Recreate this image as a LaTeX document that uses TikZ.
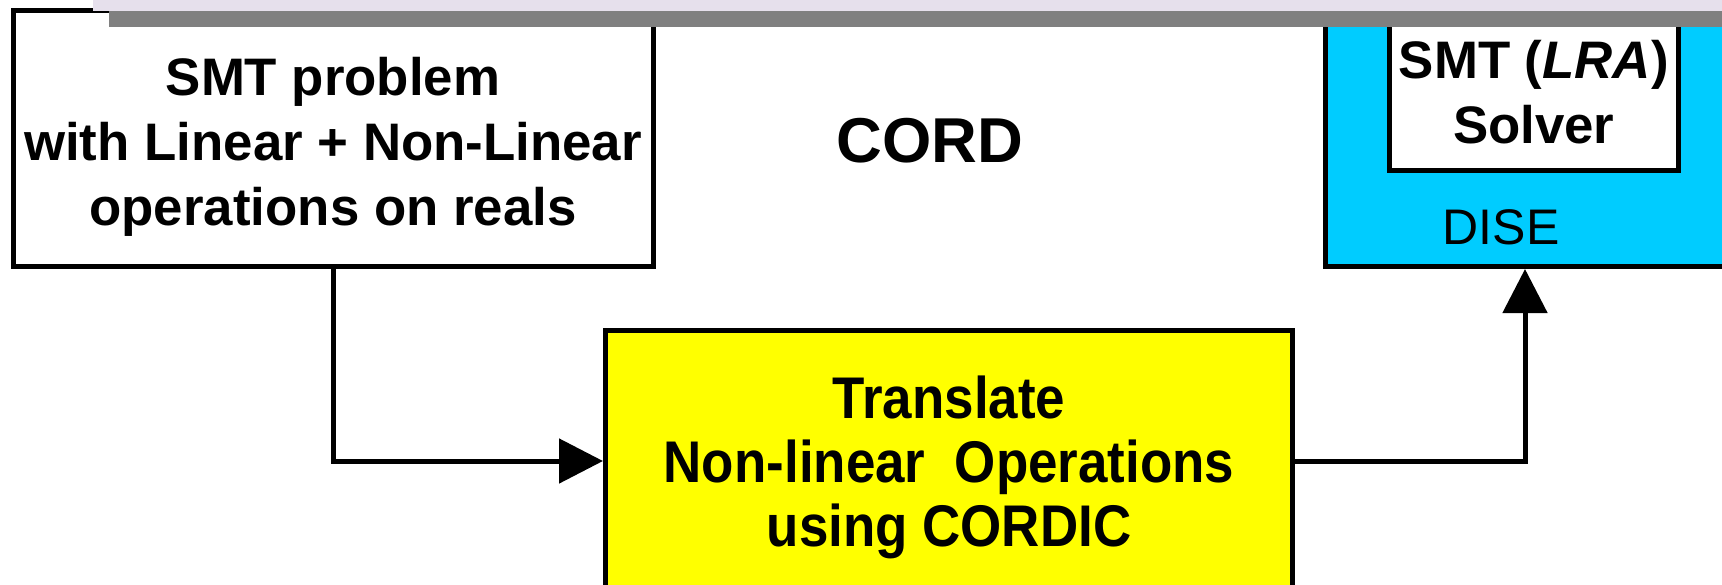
\documentclass[tikz,border=0pt]{standalone}
\usepackage{fontspec}
\setmainfont{Liberation Sans}
\newfontfamily\tallfont{Liberation Sans}[FakeStretch=0.9]
\usetikzlibrary{arrows.meta,positioning}
\definecolor{diseBlue}{HTML}{00CCFF}
\definecolor{trYellow}{HTML}{FFFF00}
\definecolor{barLilac}{HTML}{E6E0EC}
\definecolor{barGray}{HTML}{808080}

\begin{document}
\begin{tikzpicture}[
  x=0.5pt, y=-0.5pt,
  box/.style={draw, line width=2.5pt, align=center, inner sep=0pt, fill=#1},
  big/.style={font=\fontsize{26.4}{32.5}\selectfont\bfseries},
  flow/.style={line width=2.5pt, -{Triangle[length=22pt, width=22pt]}}
]
\clip (0,0) rectangle (1722,584);
% input problem
\node[box=white, minimum width=320pt, minimum height=127.75pt] (prob) at (333,138.25) {};
\node[big, align=center] (probtxt) at (333,146.5)
  {SMT problem\\with Linear + Non-Linear\\operations on reals};
\node[font=\fontsize{31.7}{38}\selectfont\bfseries] (cord) at (930,141) {CORD};
% solver side
\node[box=diseBlue, minimum width=217.25pt, minimum height=126.25pt] (dise) at (1542.75,140.25) {};
\node[box=white, big, minimum width=144.25pt, minimum height=78.25pt] (lra) at (1533.75,92.25)
  {SMT (\textit{LRA})\\Solver};
\node[font=\fontsize{25}{30}\selectfont] (diselab) at (1501,227) {DISE};
% translation step
\node[box=trYellow, minimum width=343.5pt, minimum height=130.5pt] (trans) at (949,461) {};
\node[font=\fontsize{29.4}{32}\selectfont\tallfont\bfseries, align=center] (transtxt) at (949,467)
  {Translate\\Non-linear\ \ Operations\\using CORDIC};
% top bars
\fill[barLilac] (93,0) rectangle (1722,11);
\fill[barGray] (109,11) rectangle (1722,27);
% connectors
\coordinate (up) at (1525,0);
\draw[flow] (prob.south) |- (trans.west);
\draw[flow] (trans.east) -| (up |- dise.south);
\end{tikzpicture}
\end{document}
